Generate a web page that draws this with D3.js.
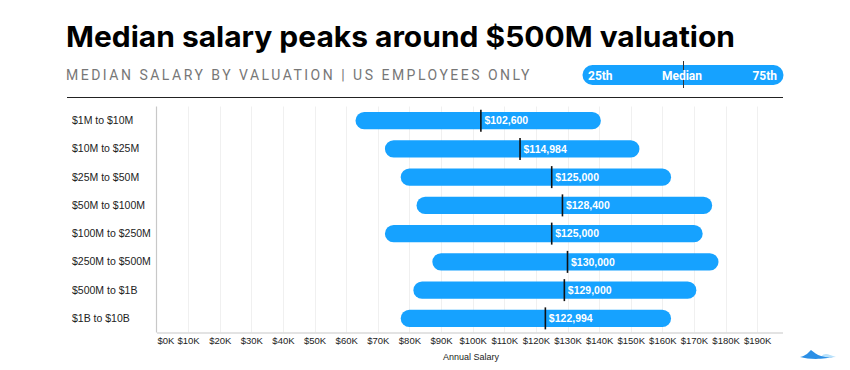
<!DOCTYPE html>
<html>
<head>
<meta charset="utf-8">
<script src="https://cdn.jsdelivr.net/npm/d3@7"></script>
<style>
  body { margin: 0; background: #fff; }
  svg { display: block; }
</style>
</head>
<body>
<svg id="chart" width="850" height="370"></svg>
<script>
// --- Data ---
const categories = ["$1M to $10M", "$10M to $25M", "$25M to $50M", "$50M to $100M",
    "$100M to $250M", "$250M to $500M", "$500M to $1B", "$1B to $10B"];
const p25 = [65700, 75000, 80000, 85000, 75000, 90000, 84000, 80000];
const p75 = [137800, 150000, 160000, 173000, 170000, 175000, 168000, 160000];
const medians = [102600, 114984, 125000, 128400, 125000, 130000, 129000, 122994];
const tickValues = d3.range(0, 200000, 10000);

// --- Constants ---
const blue = "#16a2ff";
const barH = 17.4;
const plot = { left: 156.5, right: 782.5, top: 106.5, bottom: 332.5 };

const svg = d3.select("#chart");

// --- Header ---
svg.append("text")
    .attr("x", 66).attr("y", 47)
    .attr("font-family", "Inter, 'Noto Sans', sans-serif")
    .attr("font-weight", 700)
    .attr("font-size", 29)
    .attr("textLength", 669)
    .attr("lengthAdjust", "spacingAndGlyphs")
    .attr("fill", "#000")
    .text("Median salary peaks around $500M valuation");

svg.append("text")
    .attr("x", 66).attr("y", 80)
    .attr("font-family", "Roboto, 'Noto Sans', sans-serif")
    .attr("font-size", 14)
    .attr("letter-spacing", 2.5)
    .attr("fill", "#777")
    .text("MEDIAN SALARY BY VALUATION | US EMPLOYEES ONLY");

// legend pill
const legend = svg.append("g");
legend.append("rect")
    .attr("x", 582.5).attr("y", 65)
    .attr("width", 201).attr("height", 20)
    .attr("rx", 10)
    .attr("fill", blue);
legend.append("line")
    .attr("x1", 683.5).attr("x2", 683.5)
    .attr("y1", 61).attr("y2", 88)
    .attr("stroke", "#333").attr("stroke-width", 1);
[["25th", 588, "start"], ["Median", 682, "middle"], ["75th", 777, "end"]].forEach(([t, x, a]) => {
    legend.append("text")
        .attr("x", x).attr("y", 79.5)
        .attr("text-anchor", a)
        .attr("font-family", "Roboto, 'Liberation Sans', sans-serif")
        .attr("font-weight", 700)
        .attr("font-size", 12)
        .attr("fill", "#fff")
        .text(t);
});

svg.append("line")
    .attr("x1", 67).attr("x2", 783)
    .attr("y1", 97.5).attr("y2", 97.5)
    .attr("stroke", "#222").attr("stroke-width", 1);

// --- Scales ---
const x = d3.scaleLinear().domain([0, 198000]).range([plot.left, plot.right]);
const y = d3.scaleBand().domain(categories).range([plot.top, plot.bottom]);

// grid
svg.append("g")
    .selectAll("line")
    .data(tickValues.slice(1))
    .join("line")
    .attr("x1", d => Math.round(x(d)) + 0.5).attr("x2", d => Math.round(x(d)) + 0.5)
    .attr("y1", plot.top).attr("y2", plot.bottom)
    .attr("stroke", "#f0f0f0").attr("stroke-width", 1);

// x axis
const xAxis = svg.append("g")
    .attr("transform", `translate(0,${plot.bottom})`)
    .call(d3.axisBottom(x).tickValues(tickValues).tickSize(0).tickPadding(5)
        .tickFormat(d => `$${d / 1000}K`));
xAxis.select(".domain").attr("stroke", "#c8c8c8").attr("stroke-width", 1.2);
xAxis.selectAll("text")
    .attr("font-family", "'Liberation Sans', Arial, sans-serif")
    .attr("font-size", 9.5)
    .attr("fill", "#222");
// first label is flush with the axis start
xAxis.selectAll(".tick text").filter(d => d === 0)
    .attr("text-anchor", "start").attr("dx", 0.5);

svg.append("line")
    .attr("x1", plot.left).attr("x2", plot.left)
    .attr("y1", plot.top).attr("y2", plot.bottom)
    .attr("stroke", "#c8c8c8").attr("stroke-width", 1.2);

svg.append("text")
    .attr("x", 471).attr("y", 359.5)
    .attr("text-anchor", "middle")
    .attr("font-family", "'Liberation Sans', Arial, sans-serif")
    .attr("font-size", 9)
    .attr("fill", "#222")
    .text("Annual Salary");

// y labels
svg.append("g")
    .selectAll("text")
    .data(categories)
    .join("text")
    .attr("x", 72)
    .attr("y", d => y(d) + y.bandwidth() / 2 + 3.5)
    .attr("font-family", "'Liberation Sans', Arial, sans-serif")
    .attr("font-size", 10.5)
    .attr("fill", "#222")
    .text(d => d);

// --- Bars (rules with round caps) ---
const rows = categories.map((c, i) => ({ c, lo: p25[i], hi: p75[i], med: medians[i] }));
const rowG = svg.append("g").selectAll("g").data(rows).join("g")
    .attr("transform", d => `translate(0,${y(d.c) + y.bandwidth() / 2})`);

rowG.append("line")
    .attr("x1", d => x(d.lo)).attr("x2", d => x(d.hi))
    .attr("y1", 0).attr("y2", 0)
    .attr("stroke", blue)
    .attr("stroke-width", barH)
    .attr("stroke-linecap", "round");

rowG.append("line")
    .attr("x1", d => x(d.med)).attr("x2", d => x(d.med))
    .attr("y1", -11).attr("y2", 11)
    .attr("stroke", "#111").attr("stroke-width", 1.6);

rowG.append("text")
    .attr("x", d => x(d.med) + 3.5)
    .attr("y", 3.8)
    .attr("font-family", "'Liberation Sans', Arial, sans-serif")
    .attr("font-weight", 700)
    .attr("font-size", 10.5)
    .attr("fill", "#fff")
    .text(d => "$" + d3.format(",")(d.med));

// --- Logo mark ---
const logo = svg.append("g").attr("transform", "translate(800,350)");
logo.append("path")
    .attr("d", "M21,7 C24,3 27,4 30,5 C32,6 34,6 36,7 L21,8 Z")
    .attr("fill", "#b9e2fb");
logo.append("path")
    .attr("d", "M0,7 C6,6 9,2 11,0 C14,2 17,5 21,6 C25,7 29,8 33,7 C26,9 10,10 0,7 Z")
    .attr("fill", "#2b8fe6");
</script>
</body>
</html>
